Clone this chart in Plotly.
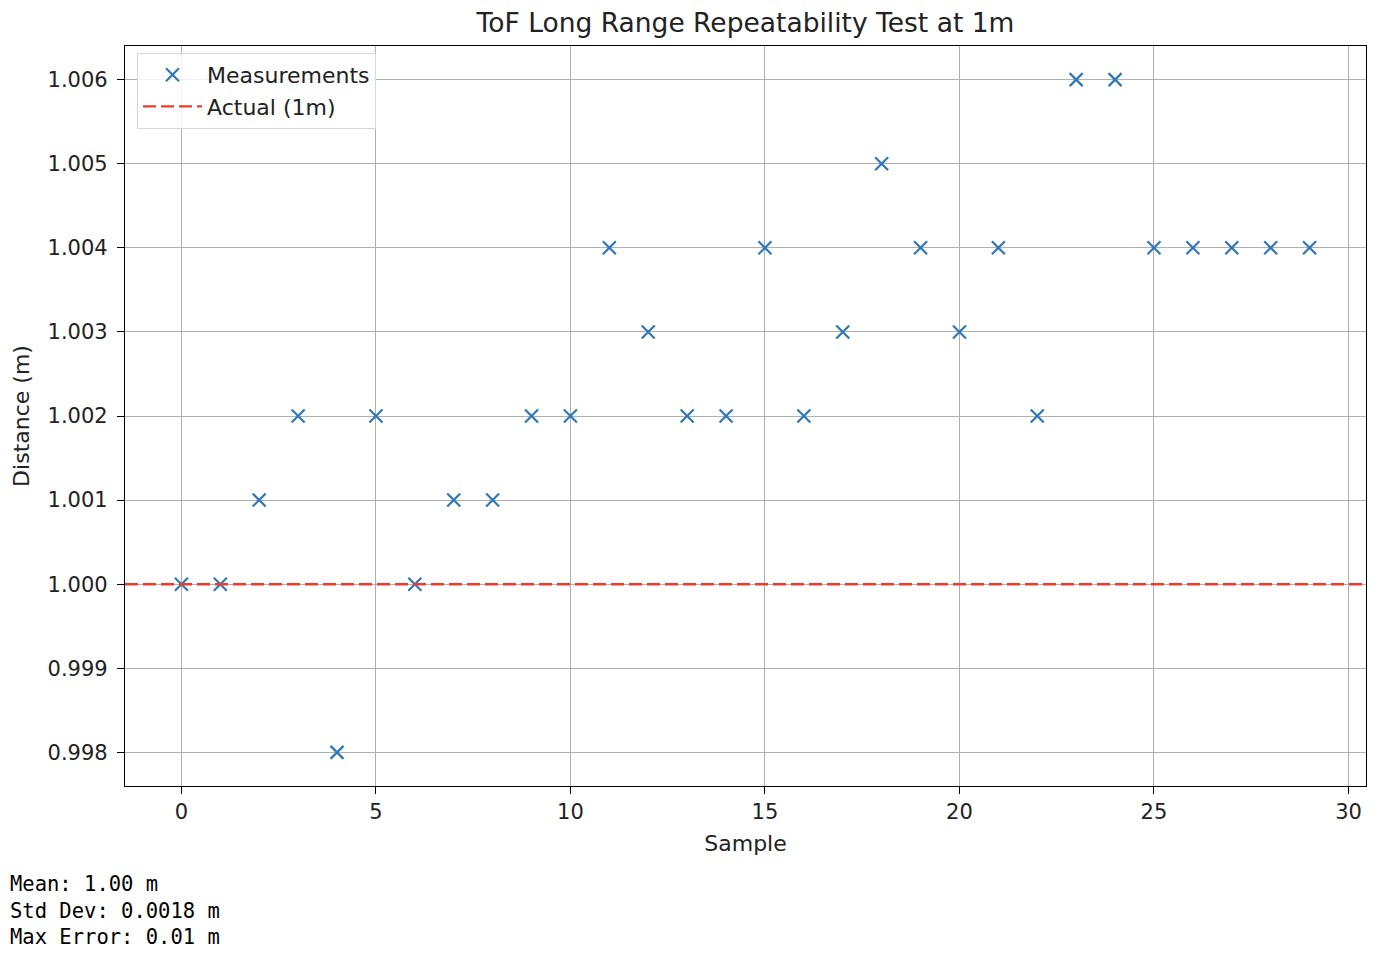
import plotly.graph_objects as go

samples = list(range(30))
distances = [1.000, 1.000, 1.001, 1.002, 0.998, 1.002, 1.000, 1.001, 1.001, 1.002,
             1.002, 1.004, 1.003, 1.002, 1.002, 1.004, 1.002, 1.003, 1.005, 1.004,
             1.003, 1.004, 1.002, 1.006, 1.006, 1.004, 1.004, 1.004, 1.004, 1.004]
actual = 1.0
x_ticks = [0, 5, 10, 15, 20, 25, 30]
y_ticks = [0.998, 0.999, 1.000, 1.001, 1.002, 1.003, 1.004, 1.005, 1.006]
stats_lines = ["Mean: 1.00 m", "Std Dev: 0.0018 m", "Max Error: 0.01 m"]

FONT = "DejaVu Sans"
W, H = 1374, 940
L, R, T, B = 117, 16, 38, 162
PW, PH = W - L - R, H - T - B

fig = go.Figure()
fig.add_trace(go.Scatter(
    x=samples, y=distances, mode="markers", name="Measurements",
    marker=dict(symbol="x-thin", size=13, color="#2f78b8",
                line=dict(width=2.2, color="#2f78b8")),
))
fig.add_trace(go.Scatter(
    x=[-1.45, 30.45], y=[actual, actual], mode="lines", name="Actual (1m)",
    line=dict(color="#f03a2a", width=2.4, dash="13px,5px"),
))

axis_common = dict(
    showline=True, linecolor="black", linewidth=1.3, mirror=True,
    showgrid=True, gridcolor="#b0b0b0", gridwidth=1,
    ticks="outside", ticklen=7, tickcolor="black", tickwidth=1.2,
    zeroline=False, tickfont=dict(family=FONT, size=21, color="#222"),
)
fig.update_xaxes(range=[-1.45, 30.45], tickvals=x_ticks,
                 title=dict(text="Sample", font=dict(family=FONT, size=22, color="#222"), standoff=12),
                 **axis_common)
fig.update_yaxes(range=[0.9976, 1.0064], tickvals=y_ticks, tickformat=".3f",
                 ticklabelstandoff=5,
                 title=dict(text="Distance (m)", font=dict(family=FONT, size=22, color="#222"), standoff=11),
                 **axis_common)

annotations = []
for i, line in enumerate(stats_lines):
    annotations.append(dict(
        text=line, xref="paper", yref="paper", x=-L / PW, y=-(98 + 26.5 * i) / PH,
        xanchor="left", yanchor="middle", showarrow=False,
        font=dict(family="DejaVu Sans Mono", size=20.5, color="black"),
    ))

fig.update_layout(
    width=W, height=H,
    margin=dict(l=L, r=R, t=T, b=B, autoexpand=False),
    paper_bgcolor="white", plot_bgcolor="white",
    title=dict(text="ToF Long Range Repeatability Test at 1m", x=(L + PW / 2) / W,
               xanchor="center", y=1 - 15 / H, yanchor="middle",
               font=dict(family=FONT, size=26.5, color="#222")),
    showlegend=True,
    legend=dict(x=12 / PW, y=1 - 7 / PH, xanchor="left", yanchor="top",
                bgcolor="rgba(255,255,255,0.85)", bordercolor="#d8d8d8", borderwidth=1,
                font=dict(family=FONT, size=22, color="#222"), itemwidth=59),
    annotations=annotations,
)
fig.write_html("out.html")
